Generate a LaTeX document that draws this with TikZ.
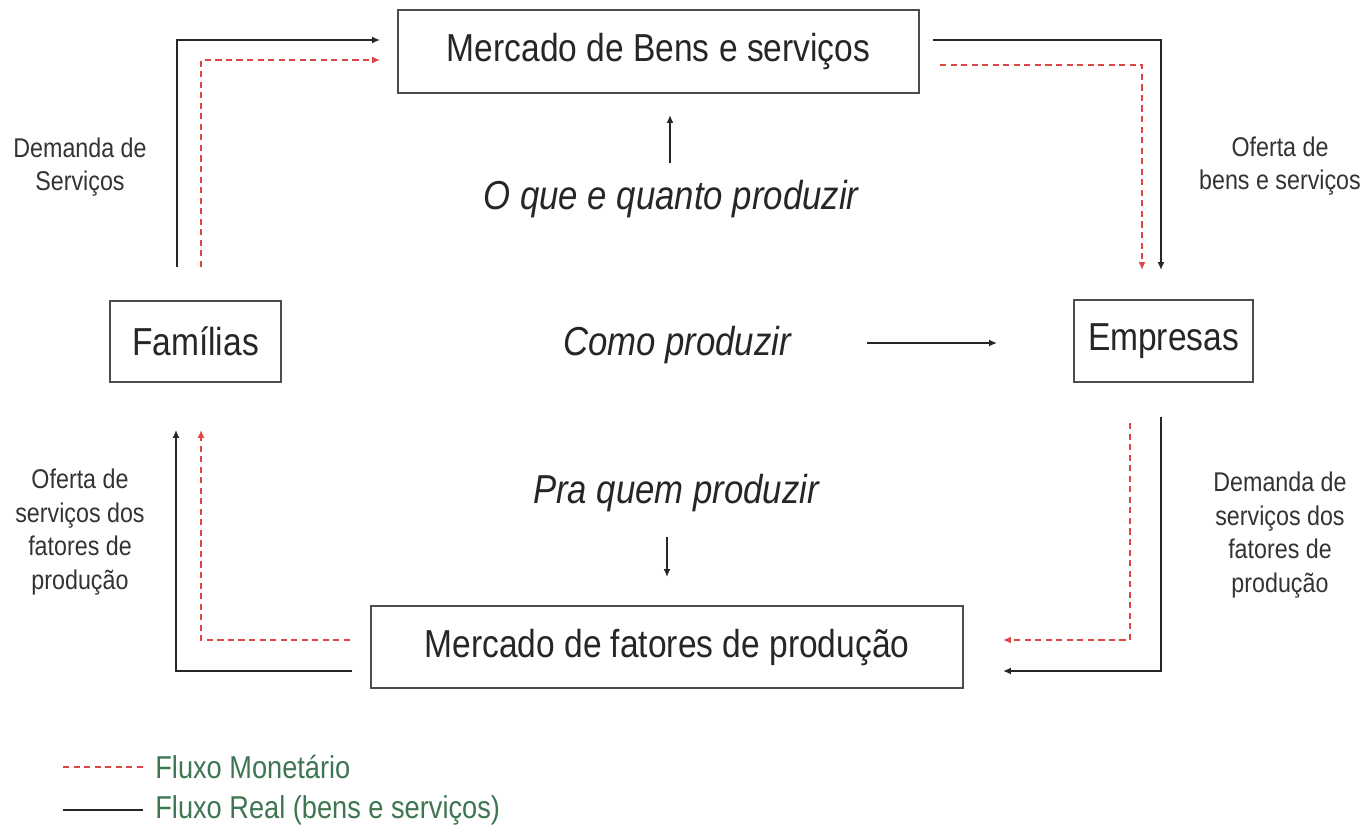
\documentclass[tikz,border=0pt]{standalone}
\usepackage{fontspec}
\setmainfont[FakeStretch=0.86]{Liberation Sans}
\usepackage{tikz}
\usetikzlibrary{arrows.meta}

\definecolor{moneyred}{RGB}{222,70,70}
\definecolor{legendgreen}{RGB}{62,118,82}

\begin{document}
\begin{tikzpicture}[x=0.02cm, y=-0.02cm,
    box/.style={draw=black!70, line width=1.2pt, inner sep=0pt, fill=white,
      font=\fontsize{22.2}{26}\selectfont, text=black!85},
    ask/.style={font=\fontsize{23}{27}\selectfont\itshape, text=black!85},
    lbl/.style={align=center, font=\fontsize{15.4}{19}\selectfont, text=black!80},
    real/.style={draw=black!85, line width=1.1pt, -{Latex[length=4.5pt,width=4pt]}},
    money/.style={draw=moneyred, line width=0.9pt, dash pattern=on 3.5pt off 2.5pt,
      -{Latex[length=4.5pt,width=4pt]}},
    legtext/.style={anchor=west, inner sep=0pt, text=legendgreen, font=\fontsize{18}{21}\selectfont}]
      \useasboundingbox (0, 0) rectangle (1370, 838);

      % caixas
      \node [box, minimum width=296.5pt, minimum height=47.2pt] (bens) at (658.5, 51.5) {Mercado de Bens e serviços};
      \node [box, minimum width=97.3pt, minimum height=46.1pt] (fam) at (195.5, 341.5) {Famílias};
      \node [box, minimum width=101.9pt, minimum height=46.7pt] (emp) at (1163.5, 341) {Empresas};
      \node [box, minimum width=336.9pt, minimum height=46.7pt] (fat) at (667, 647) {Mercado de fatores de produção};

      % perguntas
      \node [ask] (oque) at (671, 199) {O que e quanto produzir};
      \node [ask] (como) at (677, 345) {Como produzir};
      \node [ask] (pra) at (676, 493) {Pra quem produzir};
      \coordinate (oqueA) at (670, 163);
      \coordinate (oqueB) at (670, 115);
      \coordinate (comoA) at (867, 343);
      \coordinate (comoB) at (997, 343);
      \coordinate (praA) at (667, 537);
      \coordinate (praB) at (667, 577);
      \draw [real] (oqueA) -- (oqueB);
      \draw [real] (comoA) -- (comoB);
      \draw [real] (praA) -- (praB);

      % fluxos de cima
      \coordinate (famK) at (177, 267);
      \coordinate (famM) at (201, 267);
      \coordinate (bensK) at (380, 40);
      \coordinate (bensM) at (380, 60);
      \draw [real] (famK) |- (bensK);
      \draw [money] (famM) |- (bensM);

      \coordinate (bensK2) at (933, 40);
      \coordinate (bensM2) at (940, 65);
      \coordinate (empK) at (1161, 270);
      \coordinate (empM) at (1142, 270);
      \draw [real] (bensK2) -| (empK);
      \draw [money] (bensM2) -| (empM);

      % fluxos de baixo
      \coordinate (empK2) at (1161, 417);
      \coordinate (empM2) at (1130, 423);
      \coordinate (fatK) at (1003, 671);
      \coordinate (fatM) at (1003, 640);
      \draw [real] (empK2) |- (fatK);
      \draw [money] (empM2) |- (fatM);

      \coordinate (fatK2) at (352, 671);
      \coordinate (fatM2) at (350, 640);
      \coordinate (famK2) at (176, 430);
      \coordinate (famM2) at (201, 430);
      \draw [real] (fatK2) -| (famK2);
      \draw [money] (fatM2) -| (famM2);

      % rotulos
      \node [lbl] (demserv) at (80, 167) {Demanda de\\Serviços};
      \node [lbl] (ofbens) at (1280, 166) {Oferta de\\bens e serviços};
      \node [lbl] (offat) at (80, 532) {Oferta de\\serviços dos\\fatores de\\produção};
      \node [lbl] (demfat) at (1280, 535) {Demanda de\\serviços dos\\fatores de\\produção};

      % legenda
      \coordinate (legMa) at (63, 767);
      \coordinate (legMb) at (143, 767);
      \coordinate (legRa) at (63, 810);
      \coordinate (legRb) at (143, 810);
      \draw [money, -] (legMa) -- (legMb);
      \draw [real, -] (legRa) -- (legRb);
      \node [legtext] (legM) at (155, 767) {Fluxo Monetário};
      \node [legtext] (legR) at (155, 810) {Fluxo Real (bens e serviços)};
    \end{tikzpicture}
\end{document}
